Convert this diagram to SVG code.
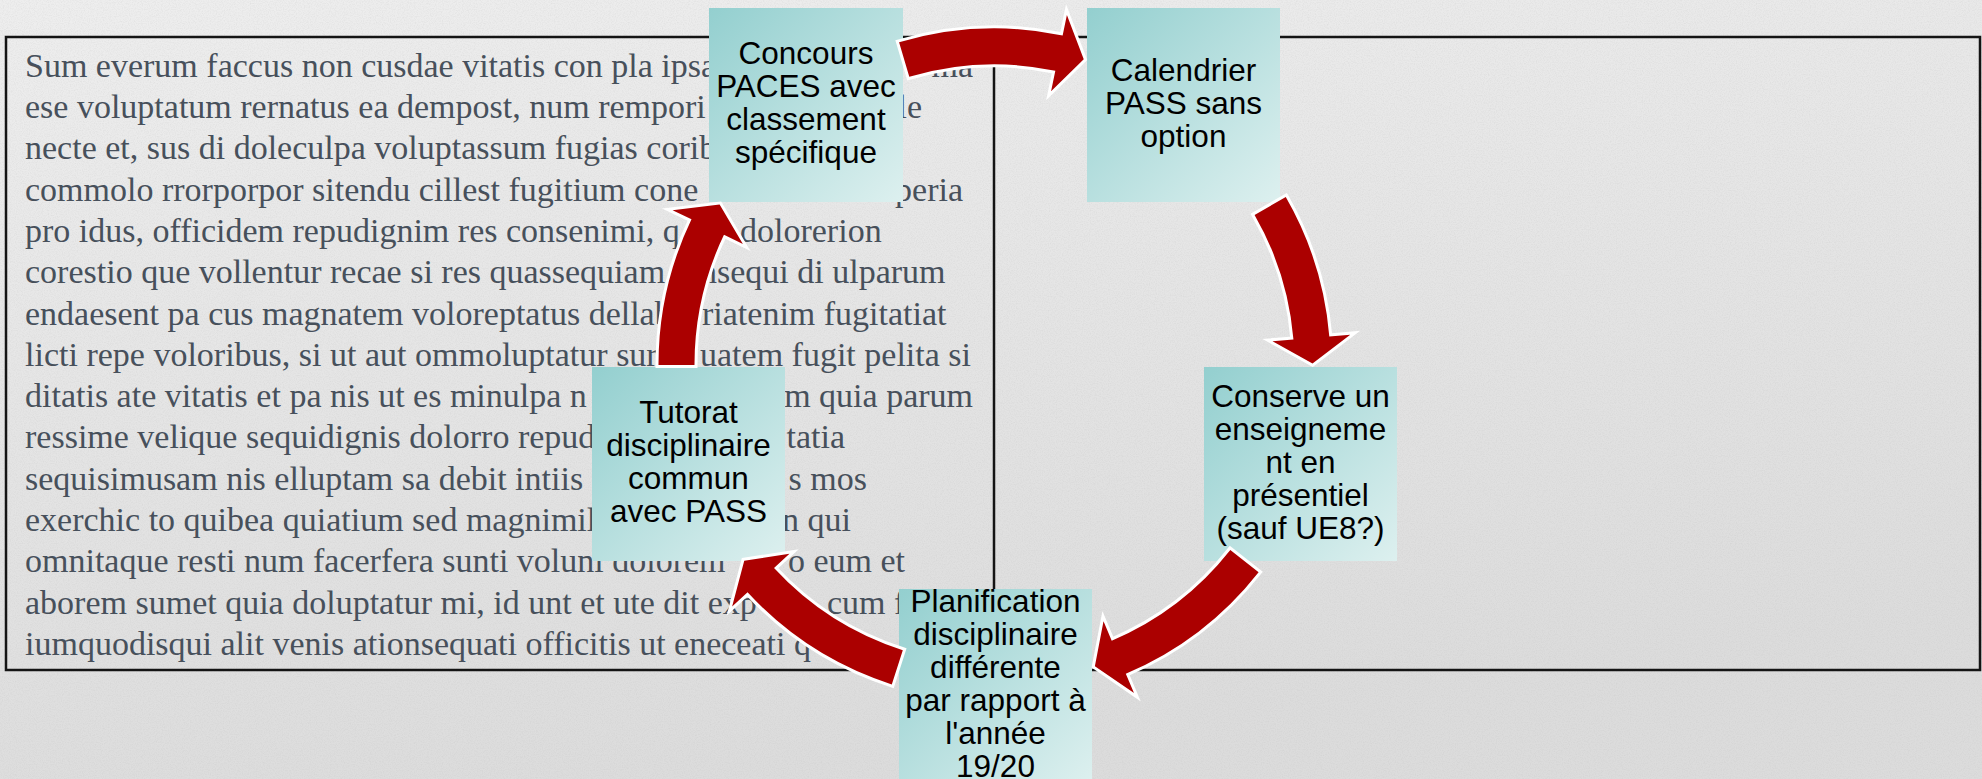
<svg xmlns="http://www.w3.org/2000/svg" width="1982" height="779" viewBox="0 0 1982 779">
  <defs>
    <linearGradient id="bg" x1="0" y1="0" x2="0.3" y2="1">
      <stop offset="0" stop-color="#eeeeee"/>
      <stop offset="1" stop-color="#dcdcdc"/>
    </linearGradient>
    <linearGradient id="nodeFill" x1="0" y1="0" x2="1" y2="1">
      <stop offset="0" stop-color="#93cfcf"/>
      <stop offset="1" stop-color="#ddf0ef"/>
    </linearGradient>
    <filter id="noise" x="0" y="0" width="100%" height="100%">
      <feTurbulence type="fractalNoise" baseFrequency="0.85" numOctaves="2" seed="3" result="t"/>
      <feColorMatrix in="t" type="matrix" values="0 0 0 0 0.45  0 0 0 0 0.45  0 0 0 0 0.45  0 0 0 -0.9 0.55"/>
    </filter>
    <style>
      .lorem { font-family: "Liberation Serif", "Times New Roman", serif; font-size: 34px; fill: #47505b; }
      .node rect { fill: url(#nodeFill); }
      .node text { font-family: "Liberation Sans", Arial, sans-serif; font-size: 31.5px; fill: #000; text-anchor: middle; }
      .panel { fill: none; stroke: #141414; stroke-width: 2.5; }
      .arrow { fill: #ab0000; stroke: #ffffff; stroke-width: 6; paint-order: stroke; stroke-linejoin: miter; stroke-miterlimit: 10; }
    </style>
  </defs>

  <g id="background">
    <rect width="1982" height="779" fill="url(#bg)"/>
    <rect width="1982" height="779" filter="url(#noise)" opacity="0.4"/>
  </g>

  <g id="text-panel">
    <rect class="panel" x="6" y="37" width="1974" height="633"/>
    <line class="panel" x1="994" y1="37" x2="994" y2="670"/>
    <text class="lorem" x="25" y="76.7">Sum everum faccus non cusdae vitatis con pla ipsa</text>
    <text class="lorem" x="973" y="76.7" text-anchor="end">ma</text>
    <text class="lorem" x="25" y="118">ese voluptatum rernatus ea dempost, num rempori</text>
    <text class="lorem" x="922" y="118" text-anchor="end">le</text>
    <text class="lorem" x="25" y="159.3">necte et, sus di doleculpa voluptassum fugias corib</text>
    <text class="lorem" x="25" y="200.6">commolo rrorporpor sitendu cillest fugitium cone</text>
    <text class="lorem" x="963" y="200.6" text-anchor="end">peria</text>
    <text class="lorem" x="25" y="241.9">pro idus, officidem repudignim res consenimi, q</text>
    <text class="lorem" x="740" y="241.9">dolorerion</text>
    <text class="lorem" x="25" y="283.2">corestio que vollentur recae si res quassequiam</text>
    <text class="lorem" x="700" y="283.2">nsequi di ulparum</text>
    <text class="lorem" x="25" y="324.5">endaesent pa cus magnatem voloreptatus dellab</text>
    <text class="lorem" x="702" y="324.5">riatenim fugitatiat</text>
    <text class="lorem" x="25" y="365.8">licti repe voloribus, si ut aut ommoluptatur sur</text>
    <text class="lorem" x="700" y="365.8">uatem fugit pelita si</text>
    <text class="lorem" x="25" y="407.1">ditatis ate vitatis et pa nis ut es minulpa n</text>
    <text class="lorem" x="973" y="407.1" text-anchor="end">m quia parum</text>
    <text class="lorem" x="25" y="448.4">ressime velique sequidignis dolorro repud</text>
    <text class="lorem" x="845" y="448.4" text-anchor="end">tatia</text>
    <text class="lorem" x="25" y="489.7">sequisimusam nis elluptam sa debit intiis</text>
    <text class="lorem" x="867" y="489.7" text-anchor="end">s mos</text>
    <text class="lorem" x="25" y="531">exerchic to quibea quiatium sed magnimil</text>
    <text class="lorem" x="851" y="531" text-anchor="end">n qui</text>
    <text class="lorem" x="25" y="572.3">omnitaque resti num facerfera sunti voluni dolorem</text>
    <text class="lorem" x="905" y="572.3" text-anchor="end">o eum et</text>
    <text class="lorem" x="25" y="613.6">aborem sumet quia doluptatur mi, id unt et ute dit exp</text>
    <text class="lorem" x="827" y="613.6">cum f</text>
    <text class="lorem" x="25" y="654.9">iumquodisqui alit venis ationsequati officitis ut eneceati q</text>
  </g>

  <g id="node-concours" class="node">
    <rect x="709" y="8" width="194" height="194"/>
    <text x="806" y="64">Concours</text>
    <text x="806" y="97">PACES avec</text>
    <text x="806" y="130">classement</text>
    <text x="806" y="163">spécifique</text>
  </g>

  <g id="node-calendrier" class="node">
    <rect x="1087" y="8" width="193" height="194"/>
    <text x="1183.5" y="80.5">Calendrier</text>
    <text x="1183.5" y="113.5">PASS sans</text>
    <text x="1183.5" y="146.5">option</text>
  </g>

  <g id="node-conserve" class="node">
    <rect x="1204" y="367" width="193" height="194"/>
    <text x="1300.5" y="406.5">Conserve un</text>
    <text x="1300.5" y="439.5">enseigneme</text>
    <text x="1300.5" y="472.5">nt en</text>
    <text x="1300.5" y="505.5">présentiel</text>
    <text x="1300.5" y="538.5">(sauf UE8?)</text>
  </g>

  <g id="node-planification" class="node">
    <rect x="899" y="589" width="193" height="194"/>
    <text x="995.5" y="611.5">Planification</text>
    <text x="995.5" y="644.5">disciplinaire</text>
    <text x="995.5" y="677.5">différente</text>
    <text x="995.5" y="710.5">par rapport à</text>
    <text x="995.5" y="743.5">l'année</text>
    <text x="995.5" y="776.5">19/20</text>
  </g>

  <g id="node-tutorat" class="node">
    <rect x="592" y="367" width="193" height="194"/>
    <text x="688.5" y="423">Tutorat</text>
    <text x="688.5" y="456">disciplinaire</text>
    <text x="688.5" y="489">commun</text>
    <text x="688.5" y="522">avec PASS</text>
  </g>

  <g id="connectors">
    <path class="arrow" d="M899.07,42.34 A336,336 0 0 1 1062.64,35.48 L1066.90,14.92 L1083.75,59.28 L1051.08,91.30 L1055.34,70.73 A300,300 0 0 0 909.29,76.85 Z"/>
    <path class="arrow" d="M1285.78,197.01 A336,336 0 0 1 1329.32,336.38 L1350.25,334.63 L1312.5,363.39 L1272.52,341.15 L1293.45,339.40 A300,300 0 0 0 1254.57,214.95 Z"/>
    <path class="arrow" d="M1258.61,572.20 A336,336 0 0 1 1125.79,673.79 L1133.99,693.12 L1094.88,666.24 L1103.51,621.32 L1111.72,640.65 A300,300 0 0 0 1230.31,549.95 Z"/>
    <path class="arrow" d="M891.78,684.42 A336,336 0 0 1 747.57,592.36 L732.14,606.60 L744.25,560.71 L789.46,553.71 L774.03,567.95 A300,300 0 0 0 902.79,650.14 Z"/>
    <path class="arrow" d="M658.5,365.09 A336,336 0 0 1 691.49,219.32 L672.55,210.24 L719.61,204.61 L742.89,243.95 L723.95,234.87 A300,300 0 0 0 694.5,365.02 Z"/>
  </g>
</svg>
